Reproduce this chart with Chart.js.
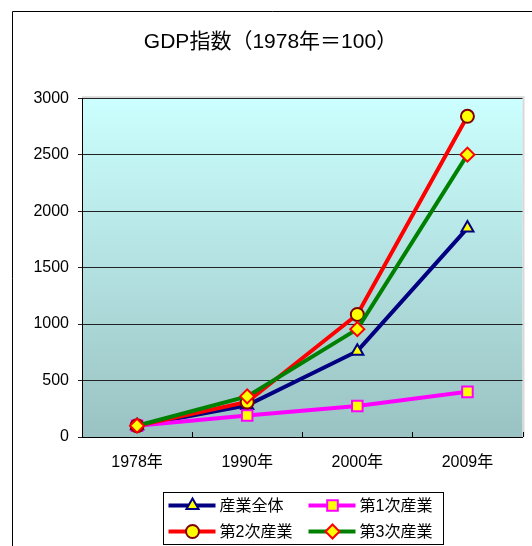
<!DOCTYPE html>
<html><head><meta charset="utf-8">
<script src="https://cdn.jsdelivr.net/npm/chart.js@4/dist/chart.umd.min.js"></script>
<style>html,body{margin:0;padding:0;background:#fff;}canvas{display:block;}</style>
</head><body>
<canvas id="c" width="532" height="546"></canvas>
<script>
const categories = ['1978年', '1990年', '2000年', '2009年'];
const seriesNames = ['産業全体', '第1次産業', '第2次産業', '第3次産業'];
const totalIndustry = [100, 280, 760, 1850];
const primaryIndustry = [100, 190, 275, 400];
const secondaryIndustry = [100, 310, 1085, 2840];
const tertiaryIndustry = [100, 360, 955, 2500];
const yTicks = [0, 500, 1000, 1500, 2000, 2500, 3000];
const titleText = 'GDP指数（1978年＝100）';

const FONT = "'Liberation Sans', 'Noto Sans CJK JP', sans-serif";

const bgPlugin = {
  id: 'bg',
  beforeDraw(chart) {
    const {ctx, chartArea: a} = chart;
    ctx.save();
    ctx.fillStyle = '#fff';
    ctx.fillRect(0, 0, chart.width, chart.height);
    ctx.strokeStyle = '#000';
    ctx.lineWidth = 1;
    ctx.beginPath();
    ctx.moveTo(12.5, chart.height);
    ctx.lineTo(12.5, 11.5);
    ctx.lineTo(chart.width, 11.5);
    ctx.stroke();
    const g = ctx.createLinearGradient(0, a.top, 0, a.bottom);
    g.addColorStop(0, '#ccffff');
    g.addColorStop(1, '#9ac2c2');
    ctx.fillStyle = g;
    ctx.fillRect(a.left, a.top, a.right - a.left, a.bottom - a.top);
    ctx.strokeStyle = '#d8d8d8';
    ctx.lineWidth = 2;
    ctx.beginPath();
    ctx.moveTo(a.left, a.top - 1);
    ctx.lineTo(a.right + 1, a.top - 1);
    ctx.lineTo(a.right + 1, a.bottom);
    ctx.stroke();
    ctx.restore();
  },
  afterDraw(chart) {
    const {ctx} = chart;
    const xs = chart.scales.x;
    ctx.save();
    ctx.strokeStyle = '#000';
    ctx.lineWidth = 1;
    const n = categories.length;
    const step = xs.width / n;
    ctx.beginPath();
    for (let i = 1; i <= n; i++) {
      const x = Math.round(xs.getPixelForValue(i - 1) + step / 2) + 0.5;
      ctx.moveTo(x, xs.top);
      ctx.lineTo(x, xs.top - 5);
    }
    ctx.stroke();
    const bx = 163.5, by = 492.5, bw = 280, bh = 52;
    ctx.strokeStyle = '#000';
    ctx.lineWidth = 1;
    ctx.strokeRect(bx, by, bw, bh);
    const ds = chart.data.datasets;
    ctx.font = '16px ' + FONT;
    ctx.textBaseline = 'middle';
    ctx.textAlign = 'left';
    seriesNames.forEach((name, k) => {
      const d = ds.find(dd => dd.label === name);
      const col = k % 2, row = Math.floor(k / 2);
      const lx = bx + 5 + col * 140;
      const ly = by + 13 + row * 26;
      ctx.strokeStyle = d.borderColor;
      ctx.lineWidth = 4;
      ctx.beginPath();
      ctx.moveTo(lx, ly);
      ctx.lineTo(lx + 47, ly);
      ctx.stroke();
      ctx.fillStyle = d.pointBackgroundColor;
      ctx.strokeStyle = d.pointBorderColor;
      ctx.lineWidth = d.pointBorderWidth;
      Chart.helpers.drawPoint(ctx, {pointStyle: d.pointStyle, radius: d.pointRadius, rotation: 0, borderWidth: d.pointBorderWidth}, lx + 24, ly);
      ctx.fillStyle = '#000';
      ctx.fillText(d.label, lx + 51, ly + 1);
    });
    ctx.restore();
  }
};

const mk = (label, data, color, style, pbc, radius, order) => ({
  label, data, order,
  borderColor: color,
  borderWidth: 4,
  pointStyle: style,
  pointRadius: radius,
  pointHoverRadius: radius,
  pointBackgroundColor: '#ffff00',
  pointBorderColor: pbc,
  pointBorderWidth: 2,
  tension: 0,
  fill: false
});

new Chart(document.getElementById('c'), {
  type: 'line',
  data: {
    labels: categories,
    datasets: [
      mk(seriesNames[0], totalIndustry, '#000080', 'triangle', '#000080', 7, 3),
      mk(seriesNames[1], primaryIndustry, '#ff00ff', 'rect', '#ff00ff', 7.5, 2),
      mk(seriesNames[2], secondaryIndustry, '#ff0000', 'circle', '#800000', 6.5, 1),
      mk(seriesNames[3], tertiaryIndustry, '#008000', 'rectRot', '#ff0000', 7, 0)
    ]
  },
  options: {
    responsive: false,
    animation: false,
    events: [],
    layout: {padding: {left: 16, right: 7, top: 0, bottom: 0}},
    plugins: {
      legend: {display: false},
      tooltip: {enabled: false},
      title: {
        display: true,
        text: titleText,
        color: '#000',
        font: {family: FONT, size: 21, weight: 'normal'},
        padding: {top: 30, bottom: 43}
      }
    },
    scales: {
      x: {
        offset: true,
        grid: {display: false, drawOnChartArea: false, drawTicks: false},
        border: {display: true, color: '#000', width: 1},
        ticks: {color: '#000', font: {family: FONT, size: 16}, padding: 16, maxRotation: 0},
        afterFit(s) { s.height = 109; }
      },
      y: {
        min: 0, max: 3000,
        afterBuildTicks(s) { s.ticks = yTicks.map(v => ({value: v})); },
        grid: {color: '#222', lineWidth: 1, tickLength: 4, drawTicks: true},
        border: {display: true, color: '#000', width: 1},
        ticks: {color: '#000', font: {family: FONT, size: 16}, padding: 9, callback: v => String(v)},
        afterFit(s) { s.width = 66; }
      }
    }
  },
  plugins: [bgPlugin]
});
</script>
</body></html>
